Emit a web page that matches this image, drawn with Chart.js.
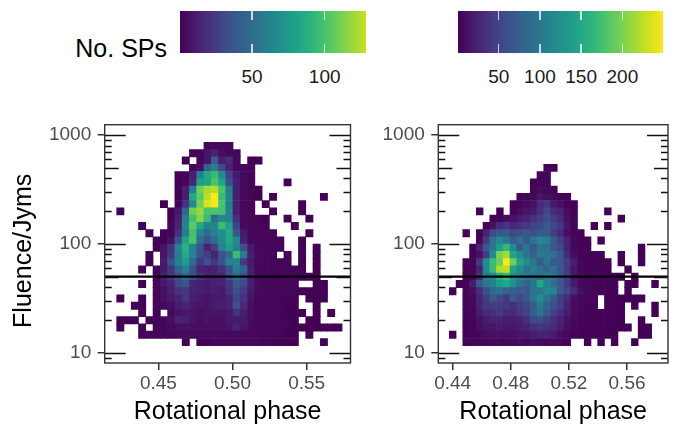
<!DOCTYPE html>
<html>
<head>
<meta charset="utf-8">
<script src="https://cdn.jsdelivr.net/npm/chart.js@4.4.1/dist/chart.umd.min.js"></script>
<style>
  html, body { margin: 0; padding: 0; background: #fff; }
  #wrap { position: relative; width: 679px; height: 425px; overflow: hidden;
          font-family: "Liberation Sans", Arial, sans-serif; }
  #wrap canvas { position: absolute; }
  .cbar { position: absolute; }
  .cbar .tk { position: absolute; width: 1.5px; background: rgba(255,255,255,0.75); }
  .cbar-lbl { position: absolute; color: #1a1a1a; font-size: 19px; line-height: 1;
              white-space: nowrap; transform: translate(-50%, -50%); }
  #legendTitle { position: absolute; font-size: 25px; line-height: 1; color: #000;
                 white-space: nowrap; transform: translate(-100%, -50%); }
</style>
</head>
<body>
<div id="wrap">
  <div id="legendTitle" style="left:167px; top:48px;">No. SPs</div>
  <div id="cbarA" class="cbar" style="left:180px; top:11px; width:186px; height:42px;"></div>
  <div id="cbarB" class="cbar" style="left:458px; top:11px; width:205px; height:42px;"></div>
  <canvas id="panelA" width="360" height="325" style="left:0; top:100px; width:360px; height:325px;"></canvas>
  <canvas id="panelB" width="319" height="325" style="left:360px; top:100px; width:319px; height:325px;"></canvas>
</div>
<script>
// ---- binning of the two pulse samples ----
// phase bins: start and width; fluence bins: log10 start and log10 width
const phaseStartA = 0.4219, phaseStepA = 0.004904;
const phaseStartB = 0.4377, phaseStepB = 0.004642;
const logFluenceStart = 1.064, logFluenceStep = 0.0667;

// axis ranges and tick labels
const phaseRangeA = [0.4138, 0.5796];
const phaseRangeB = [0.4301, 0.5882];
const fluenceRange = [8.04, 1243];
const phaseTicksA = [0.45, 0.50, 0.55];
const phaseTicksB = [0.44, 0.48, 0.52, 0.56];
const fluenceTicks = [10, 100, 1000];
const fluenceCut = 50;

// colour scales (No. SPs)
const fillLimitsA = [0.5, 140];
const fillLimitsB = [0.6, 250];
const legendRangeA = [0.5, 128.4];
const legendRangeB = [0.6, 249.3];
const legendTicksA = [50, 100];
const legendTicksB = [50, 100, 150, 200];

// counts per bin; first row = highest fluence bin, columns = phase bins
const countsA = [
  [0,0,0,0,0,0,0,0,0,0,0,0,2,3,3,2,0,0,0,0,0,0,0,0,0,0,0,0,0,0,0],
  [0,0,0,0,0,0,0,0,0,0,2,2,8,14,6,3,2,0,0,0,0,0,0,0,0,0,0,0,0,0,0],
  [0,0,0,0,0,0,0,0,0,1,0,2,8,40,12,18,3,0,1,1,0,0,0,0,0,0,0,0,0,0,0],
  [0,0,0,0,0,0,0,0,0,0,2,6,45,58,32,14,4,3,2,0,0,0,0,0,0,0,0,0,0,0,0],
  [0,0,0,0,0,0,0,0,1,2,12,60,85,95,65,28,10,3,2,0,0,0,0,0,0,0,0,0,0,0,0],
  [0,0,0,0,0,0,0,0,1,3,15,80,82,100,82,35,12,3,2,0,0,0,0,1,0,0,0,0,0,0,0],
  [0,0,0,0,0,0,0,0,1,12,60,110,122,125,100,60,12,3,2,1,0,0,0,0,0,0,0,0,0,0,0],
  [0,0,0,0,0,0,0,0,1,12,85,105,125,140,95,62,12,3,2,1,0,1,0,0,0,0,0,0,1,0,0],
  [0,0,0,0,0,0,1,0,2,20,65,110,132,138,100,60,12,3,2,0,1,0,0,0,0,1,0,0,0,0,0],
  [1,0,0,0,0,0,0,1,10,45,110,118,100,100,98,62,12,3,2,0,0,1,0,0,0,1,0,0,0,0,0],
  [0,0,0,0,0,0,0,1,12,60,98,115,95,48,65,62,20,3,2,2,1,0,0,1,0,0,1,0,0,0,0],
  [0,0,0,1,0,0,0,2,14,62,105,85,62,65,95,80,28,4,3,2,2,0,0,0,1,0,0,0,0,0,0],
  [0,0,0,0,1,0,1,2,20,60,98,65,48,62,68,85,38,10,3,2,2,2,0,0,0,0,1,0,0,0,0],
  [0,0,0,0,0,1,1,6,35,82,100,52,38,50,65,85,65,12,3,2,2,2,2,0,0,1,0,0,0,0,0],
  [0,0,0,0,0,1,8,20,62,88,62,38,14,26,62,80,62,36,10,3,2,2,2,0,0,1,0,1,0,0,0],
  [0,0,0,0,1,0,8,22,60,85,62,36,26,14,36,48,95,60,12,4,3,2,0,2,0,1,0,1,0,0,0],
  [0,0,0,0,1,0,10,36,62,78,48,22,35,22,36,62,62,24,10,3,3,2,2,2,0,1,0,1,0,0,0],
  [0,0,0,1,0,2,10,22,45,60,35,14,12,14,20,35,60,45,12,3,3,2,2,2,2,1,0,1,0,0,0],
  [0,0,0,0,0,2,12,22,35,48,35,20,14,12,14,35,48,35,12,4,3,3,2,2,2,2,2,1,0,0,0],
  [0,0,0,1,0,2,10,14,30,36,15,12,10,12,14,22,40,30,12,4,3,3,2,2,2,0,0,1,1,0,0],
  [0,0,0,0,0,2,6,12,20,22,14,12,10,12,10,20,35,24,10,4,3,3,2,2,2,1,1,1,1,0,0],
  [1,0,0,1,0,2,6,10,14,22,12,10,8,10,10,14,30,20,8,3,3,2,2,2,1,0,1,1,1,0,0],
  [0,0,1,1,0,2,4,6,12,14,10,8,8,10,12,14,35,16,6,3,2,2,2,1,1,0,0,1,0,0,0],
  [0,0,0,1,0,1,0,4,8,10,8,6,8,8,8,10,20,12,6,3,2,2,2,1,1,1,0,1,0,1,0],
  [1,1,1,0,1,2,3,6,14,12,8,6,8,6,6,10,10,10,5,3,2,2,2,2,1,0,1,1,0,0,0],
  [1,0,0,1,0,2,2,4,6,6,6,6,6,6,6,8,14,8,4,3,2,2,2,2,1,1,1,1,1,1,1],
  [0,0,0,1,2,2,3,3,4,4,4,4,4,4,4,4,4,4,3,2,2,2,2,1,1,0,1,0,0,0,0],
  [0,0,0,0,0,0,0,0,0,1,0,1,1,2,2,3,3,2,2,2,1,1,1,1,1,0,0,0,1,0,0]
];

const countsB = [
  [0,0,0,0,0,0,0,0,0,0,0,0,0,0,2,2,0,0,0,0,0,0,0,0,0,0,0,0,0,0,0],
  [0,0,0,0,0,0,0,0,0,0,0,0,0,2,3,0,0,0,0,0,0,0,0,0,0,0,0,0,0,0,0],
  [0,0,0,0,0,0,0,0,0,0,0,0,2,4,4,0,0,0,0,0,0,0,0,0,0,0,0,0,0,0,0],
  [0,0,0,0,0,0,0,0,0,0,0,0,3,8,6,3,0,0,0,0,0,0,0,0,0,0,0,0,0,0,0],
  [0,0,0,0,0,0,0,0,0,0,2,4,6,14,10,6,3,2,0,0,0,0,0,0,0,0,0,0,0,0,0],
  [0,0,0,0,0,0,0,0,0,2,5,8,12,30,40,18,12,4,2,0,0,0,0,0,0,0,0,0,0,0,0],
  [0,0,0,0,1,0,0,1,0,3,8,15,18,35,55,30,25,8,3,0,0,0,0,1,0,0,0,0,0,0,0],
  [0,0,0,0,0,0,2,4,10,12,20,25,35,45,60,45,30,10,3,0,0,0,0,0,0,1,0,0,0,0,0],
  [0,0,0,0,0,2,10,30,40,28,35,40,50,55,70,55,40,15,4,0,0,1,0,1,0,0,0,0,0,0,0],
  [0,0,1,0,3,25,55,70,70,55,60,70,60,72,70,45,30,10,4,2,0,0,0,0,0,0,0,0,0,0,0],
  [0,0,0,0,4,40,95,120,100,72,90,70,95,115,110,72,45,25,6,3,2,0,1,0,0,0,0,0,0,0,0],
  [0,0,0,2,25,70,100,140,165,120,72,95,70,95,90,70,55,25,5,3,2,0,0,0,0,0,0,0,1,0,0],
  [0,0,0,3,12,45,120,200,215,145,120,95,80,100,95,90,70,30,8,3,3,2,1,0,0,1,0,0,1,0,0],
  [0,0,1,3,40,120,170,195,249,195,145,120,95,72,95,70,70,45,20,5,3,2,2,1,0,1,0,0,1,0,0],
  [0,0,2,4,25,120,170,220,225,145,120,95,110,95,80,90,70,40,15,5,3,3,2,1,0,0,1,0,0,0,0],
  [0,0,2,4,30,110,120,155,170,130,110,100,95,90,110,95,70,45,15,6,4,3,3,2,2,1,0,1,0,0,0],
  [0,1,3,20,70,95,110,135,150,125,95,80,95,150,110,90,70,40,18,6,4,3,3,2,2,0,1,1,0,0,1],
  [1,0,3,8,30,60,85,95,80,75,72,70,95,100,120,115,72,55,30,10,5,4,3,3,2,0,1,0,0,0,0],
  [0,0,3,6,25,45,70,55,40,70,55,70,95,120,95,70,45,30,10,5,4,3,0,2,2,1,1,1,1,0,0],
  [0,0,3,6,25,40,45,45,40,35,45,55,70,100,80,60,45,25,8,5,3,3,0,2,1,1,0,1,0,0,1],
  [0,0,2,5,20,30,35,40,30,30,40,50,75,95,70,50,35,20,8,4,3,3,2,2,2,1,0,0,0,0,1],
  [0,0,2,4,12,20,25,25,20,20,25,35,55,60,45,35,25,12,6,3,3,2,2,2,2,1,0,0,1,0,0],
  [0,0,2,3,10,15,15,20,15,15,20,25,35,40,35,30,20,10,5,3,2,2,2,2,1,1,1,0,1,1,0],
  [1,0,2,3,6,10,10,12,10,10,15,15,20,25,25,18,10,6,3,2,2,2,2,1,1,0,0,0,1,1,0],
  [0,0,2,3,4,4,5,5,5,6,8,6,10,8,6,6,5,3,0,0,1,0,1,0,1,0,0,1,0,0,0]
];

// ---- viridis colour map ----
const VIRIDIS = ['#440154','#471365','#482475','#463480','#414487','#3b528b','#355f8d',
  '#2f6c8e','#2a788e','#25848e','#21918c','#1e9c89','#22a884','#2fb47c','#44bf70',
  '#5ec962','#7ad151','#9bd93c','#bddf26','#dfe318','#fde725'];
const hexRGB = h => [1, 3, 5].map(i => parseInt(h.slice(i, i + 2), 16));
const VIR_RGB = VIRIDIS.map(hexRGB);
function viridis(t) {
  t = Math.min(1, Math.max(0, t));
  const p = t * (VIR_RGB.length - 1);
  const i = Math.min(Math.floor(p), VIR_RGB.length - 2);
  const f = p - i;
  const a = VIR_RGB[i], b = VIR_RGB[i + 1];
  const c = a.map((v, k) => Math.round(v + (b[k] - v) * f));
  return `rgb(${c[0]},${c[1]},${c[2]})`;
}
const fillColor = (n, lim) => viridis((n - lim[0]) / (lim[1] - lim[0]));

// ---- colour bars above the panels ----
function drawColourBar(id, range, limits, ticks) {
  const el = document.getElementById(id);
  const w = el.offsetWidth, h = el.offsetHeight;
  const stops = [];
  for (let s = 0; s <= 24; s++) {
    const v = range[0] + (range[1] - range[0]) * s / 24;
    stops.push(`${fillColor(v, limits)} ${(s / 24 * 100).toFixed(2)}%`);
  }
  el.style.background = `linear-gradient(to right, ${stops.join(', ')})`;
  const wrap = document.getElementById('wrap');
  ticks.forEach(v => {
    const x = (v - range[0]) / (range[1] - range[0]) * w;
    [0, h - 9].forEach(top => {
      const t = document.createElement('div');
      t.className = 'tk';
      t.style.left = (x - 0.75) + 'px';
      t.style.top = top + 'px';
      t.style.height = '9px';
      el.appendChild(t);
    });
    const lbl = document.createElement('div');
    lbl.className = 'cbar-lbl';
    lbl.textContent = String(v);
    lbl.style.left = (el.offsetLeft + x) + 'px';
    lbl.style.top = '76px';
    wrap.appendChild(lbl);
  });
}
drawColourBar('cbarA', legendRangeA, fillLimitsA, legendTicksA);
drawColourBar('cbarB', legendRangeB, fillLimitsB, legendTicksB);

// ---- panels ----
Chart.defaults.font.family = '"Liberation Sans", Arial, sans-serif';

// panel frame plus log tick marks on both inner sides
const panelFrame = {
  id: 'panelFrame',
  afterDatasetsDraw(chart) {
    const { ctx, chartArea: a, scales: { y } } = chart;
    ctx.save();
    ctx.strokeStyle = '#111';
    ctx.lineWidth = 1.6;
    ctx.beginPath();
    for (let d = 0; d <= 3; d++) {
      for (let k = 1; k <= 9; k++) {
        const v = k * Math.pow(10, d);
        if (v < y.min || v > y.max) continue;
        const py = Math.round(y.getPixelForValue(v)) + 0.5;
        const len = k === 1 ? 21 : (k === 5 ? 14 : 7);
        ctx.moveTo(a.left, py); ctx.lineTo(a.left + len, py);
        ctx.moveTo(a.right, py); ctx.lineTo(a.right - len, py);
      }
    }
    ctx.stroke();
    ctx.strokeStyle = '#333';
    ctx.lineWidth = 1.4;
    ctx.strokeRect(a.left, a.top, a.right - a.left, a.bottom - a.top);
    ctx.restore();
  }
};

function buildCells(counts, phaseStart, phaseStep, limits) {
  const nRows = counts.length;
  const cells = [], colors = [];
  counts.forEach((row, r) => {
    const k = nRows - r;
    const lo = Math.pow(10, logFluenceStart + (k - 1) * logFluenceStep);
    const hi = Math.pow(10, logFluenceStart + k * logFluenceStep);
    row.forEach((n, c) => {
      if (!n) return;
      cells.push({ x: phaseStart + (c + 0.5) * phaseStep, y: [lo, hi] });
      colors.push(fillColor(n, limits));
    });
  });
  return { cells, colors };
}

function makePanel(canvasId, o) {
  const { cells, colors } = buildCells(o.counts, o.phaseStart, o.phaseStep, o.limits);
  const tickGrid = { display: true, drawOnChartArea: false, drawTicks: true, tickLength: 7,
                     color: '#333', lineWidth: 1.5, offset: false };
  return new Chart(document.getElementById(canvasId), {
    data: {
      datasets: [
        { type: 'bar', data: cells, backgroundColor: colors, borderWidth: 0,
          barPercentage: 1, categoryPercentage: 1, order: 2 },
        { type: 'line', data: [{ x: o.xRange[0], y: fluenceCut }, { x: o.xRange[1], y: fluenceCut }],
          borderColor: '#000', borderWidth: 2.3, pointRadius: 0, fill: false, order: 1 }
      ]
    },
    options: {
      responsive: false,
      animation: false,
      events: [],
      layout: { padding: { top: 24.7, right: o.padRight, left: 0, bottom: 0 } },
      plugins: { legend: { display: false }, tooltip: { enabled: false } },
      scales: {
        x: {
          type: 'linear', min: o.xRange[0], max: o.xRange[1], offset: false,
          afterBuildTicks: s => { s.ticks = o.xTicks.map(v => ({ value: v })); },
          afterFit: s => { s.height = 62; },
          grid: tickGrid,
          border: { display: false },
          ticks: { color: '#4d4d4d', font: { size: 19 }, padding: 2, maxRotation: 0,
                   autoSkip: false, callback: v => Number(v).toFixed(2) },
          title: { display: true, text: 'Rotational phase', color: '#000',
                   font: { size: 25, lineHeight: 1 }, padding: { top: 0, bottom: 0.8 } }
        },
        y: {
          type: 'logarithmic', min: fluenceRange[0], max: fluenceRange[1],
          afterBuildTicks: s => { s.ticks = fluenceTicks.map(v => ({ value: v })); },
          afterFit: s => { s.width = o.yWidth; },
          grid: tickGrid,
          border: { display: false },
          ticks: { color: '#4d4d4d', font: { size: 19 }, padding: 6.5, autoSkip: false,
                   callback: v => String(v) },
          title: { display: !!o.yTitle, text: o.yTitle || '', color: '#000',
                   font: { size: 25, lineHeight: 1 }, padding: { top: 11.7, bottom: 0 } }
        }
      }
    },
    plugins: [panelFrame]
  });
}

makePanel('panelA', {
  counts: countsA, phaseStart: phaseStartA, phaseStep: phaseStepA, limits: fillLimitsA,
  xRange: phaseRangeA, xTicks: phaseTicksA, yWidth: 104.7, padRight: 9.5,
  yTitle: 'Fluence/Jyms\u00a0\u00a0'
});
makePanel('panelB', {
  counts: countsB, phaseStart: phaseStartB, phaseStep: phaseStepB, limits: fillLimitsB,
  xRange: phaseRangeB, xTicks: phaseTicksB, yWidth: 78.3, padRight: 11, yTitle: ''
});
</script>
</body>
</html>
